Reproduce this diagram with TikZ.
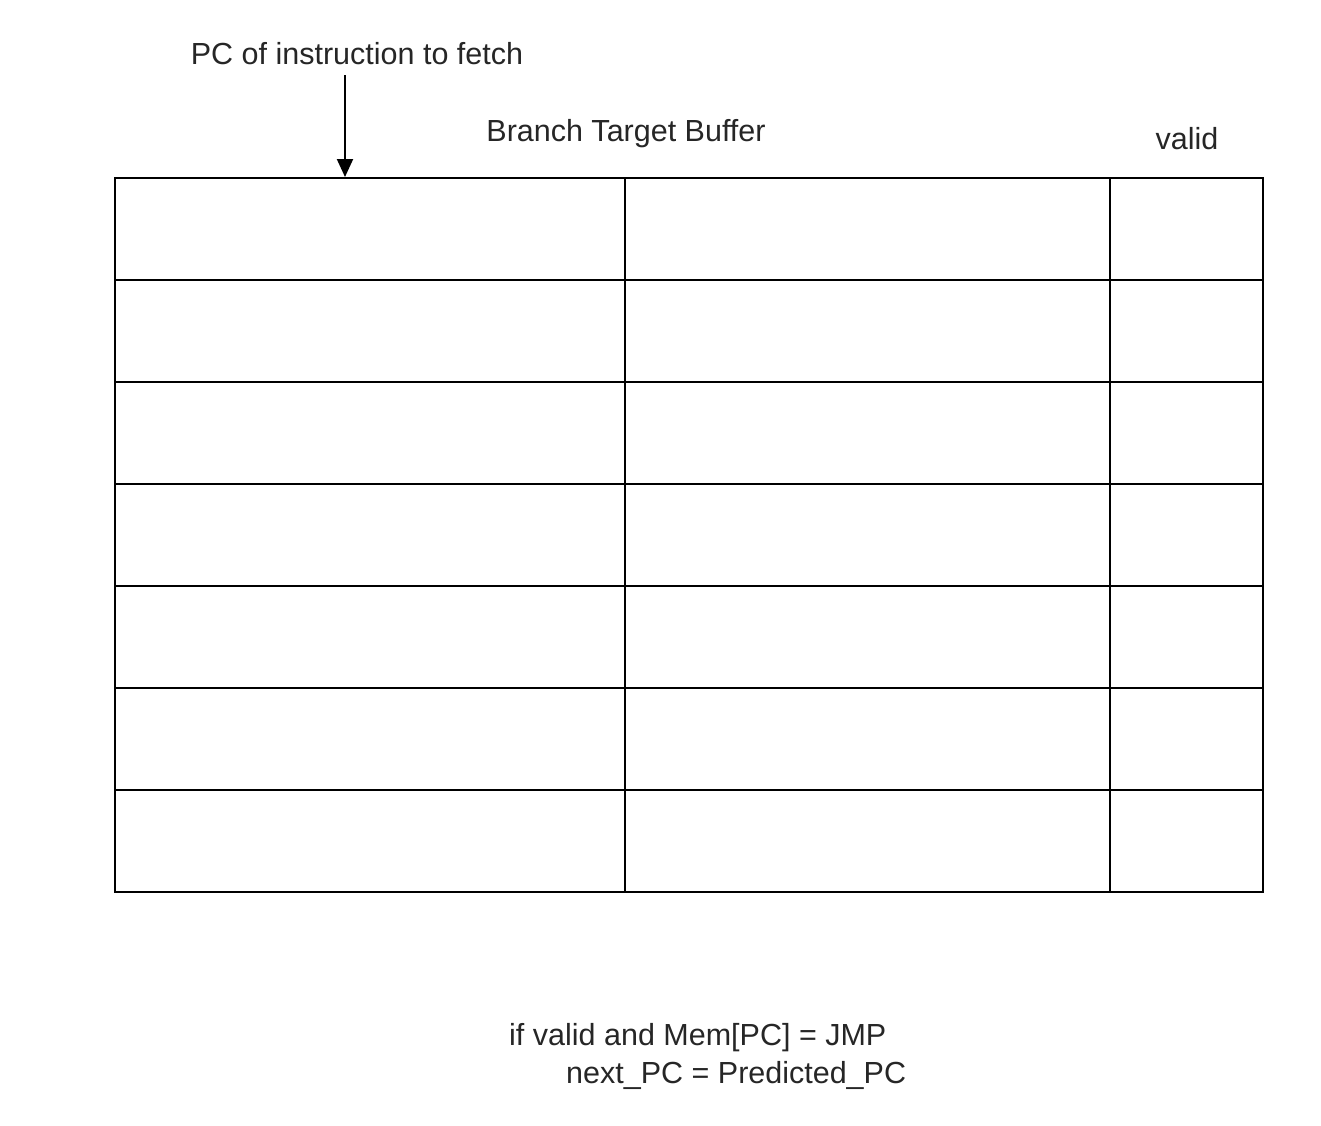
\documentclass[tikz,border=0pt]{standalone}
\usepackage{fontspec}
\setmainfont{Liberation Sans}
\usetikzlibrary{arrows.meta, positioning}

\begin{document}
\begin{tikzpicture}[
            x=1pt, y=-1pt,
            % celle della tabella
            cell/.style={draw=black, line width=2pt, inner sep=0pt, minimum height=102pt},
            % testo
            txt/.style={font=\fontsize{30.5}{38}\selectfont, text=black!85, inner sep=0pt},
            % freccia
            ptr/.style={line width=2pt, -{Triangle[width=16pt, length=18pt]}}
        ]
            \useasboundingbox (0,0) rectangle (1321,1125);

            % --- Tabella (Branch Target Buffer) ---
            \foreach \r in {1,...,7} {
                \node[cell, minimum width=510pt] (tag\r)   at (370,   {127+102*\r}) {};
                \node[cell, minimum width=485pt] (pred\r)  at (867.5, {127+102*\r}) {};
                \node[cell, minimum width=153pt] (valid\r) at (1186.5,{127+102*\r}) {};
            }

            % --- Etichette ---
            \node[txt, anchor=base] (pc) at (357, 64) {PC of instruction to fetch};
            \node[txt, anchor=base] (btb) at (626, 141) {Branch Target Buffer};
            \node[txt, anchor=base] (vhead) at (1187, 149) {valid};

            % --- Freccia verso la tabella ---
            \coordinate (pcout) at (345, 75);
            \coordinate (fetch) at (tag1.north -| pcout);
            \draw[ptr] (pcout) -- (fetch);

            % --- Condizione ---
            \node[txt, anchor=base west, align=left] (rule) at (509, 1083)
                {if valid and Mem[PC] = JMP\\\hspace*{57pt}next\_PC = Predicted\_PC};

        \end{tikzpicture}
\end{document}
